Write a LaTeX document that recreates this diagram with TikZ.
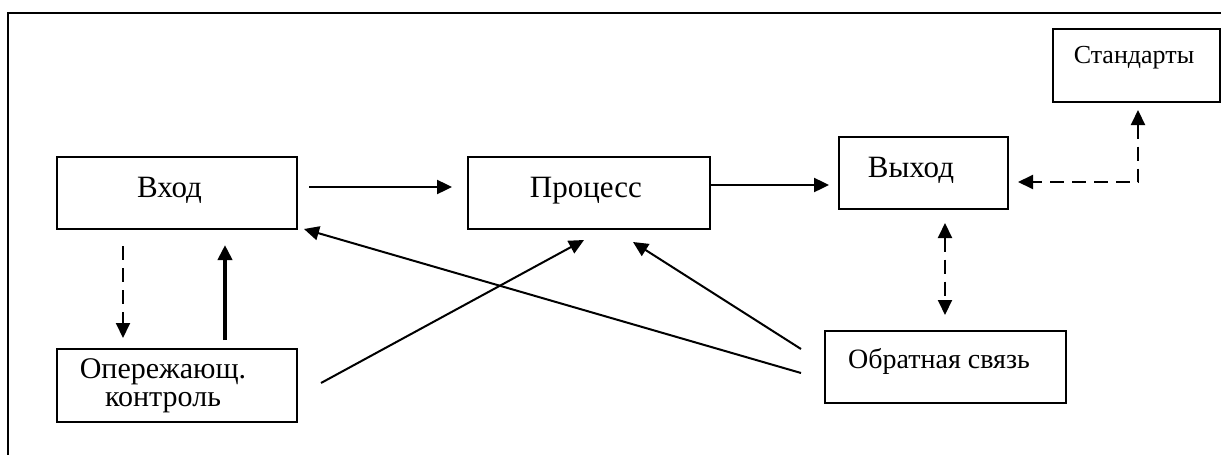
\documentclass[tikz,border=0pt]{standalone}
\usepackage{fontspec}
\setmainfont{Liberation Serif}
\newfontfamily\serf{Liberation Serif}
\usetikzlibrary{arrows.meta,calc}
\begin{document}
\begin{tikzpicture}[x=0.5pt,y=-0.5pt,
  box/.style={draw,line width=1pt,rectangle,inner sep=0pt},
  lbl/.style={anchor=base,inner sep=0pt,font=\serf\fontsize{15.5pt}{18pt}\selectfont},
  arr/.style={line width=1pt,-{Triangle[length=7.5pt,width=7pt]}},
  dbl/.style={line width=1pt,dash pattern=on 7pt off 4pt,{Triangle[length=7.5pt,width=7pt]}-{Triangle[length=7.5pt,width=7pt]}},
  dsh/.style={line width=1pt,dash pattern=on 7pt off 4pt,-{Triangle[length=7.5pt,width=7pt]}}]
\useasboundingbox (0,0) rectangle (1221,455);
\draw[line width=1.2pt] (8,455) -- (8,13) -- (1221,13);
% boxes
\node[box,minimum width=120pt,minimum height=36pt] (vhod) at (177,193) {};
\node[box,minimum width=120pt,minimum height=36.5pt] (oper) at (177,385.5) {};
\node[box,minimum width=121pt,minimum height=36pt] (proc) at (589,193) {};
\node[box,minimum width=84.5pt,minimum height=36pt] (vyh) at (923.5,173) {};
\node[box,minimum width=83.5pt,minimum height=36.5pt] (std) at (1136.5,65.5) {};
\node[box,minimum width=120.5pt,minimum height=36pt] (obr) at (945.5,367) {};
% texts
\node[lbl] (tvhod) at (169.5,197) {Вход};
\node[lbl] (tproc) at (586,197) {Процесс};
\node[lbl] (tvyh) at (911,177) {Выход};
\node[lbl,font=\serf\fontsize{13pt}{15pt}\selectfont] (tstd) at (1134,63) {Стандарты};
\node[lbl,font=\serf\fontsize{14pt}{16pt}\selectfont] (tobr) at (939,368) {Обратная связь};
\node[lbl,align=center,font=\serf\fontsize{15pt}{14pt}\selectfont] (toper) at (163,406) {Опережающ.\\контроль};
% connectors
\draw[arr,line width=1.2pt] ($(vhod.east)+(11,-6)$) -- ($(proc.west)+(-15,-6)$);
\draw[arr,line width=1.2pt] ($(proc.east)+(0,-8)$) -- ($(vyh.west)+(-9,12)$);
\draw[dsh] ($(vhod.south)+(-54,16)$) -- ($(oper.north)+(-54,-10)$);
\draw[arr,line width=2pt] ($(oper.north)+(48,-8)$) -- ($(vhod.south)+(48,15)$);
\draw[arr] ($(obr.west)+(-23,6)$) -- ($(vhod.south east)+(6,-1)$);
\draw[arr] ($(obr.west)+(-23,-18)$) -- ($(proc.south)+(44,12)$);
\draw[arr] ($(oper.east)+(23,-2.5)$) -- ($(proc.south)+(-5,10)$);
\draw[dbl] ($(vyh.south)+(21.5,13)$) -- ($(obr.north)+(-0.5,-15)$);
\draw[dbl] ($(std.south)+(1.5,7)$) |- ($(vyh.east)+(9,9)$);
\end{tikzpicture}
\end{document}
